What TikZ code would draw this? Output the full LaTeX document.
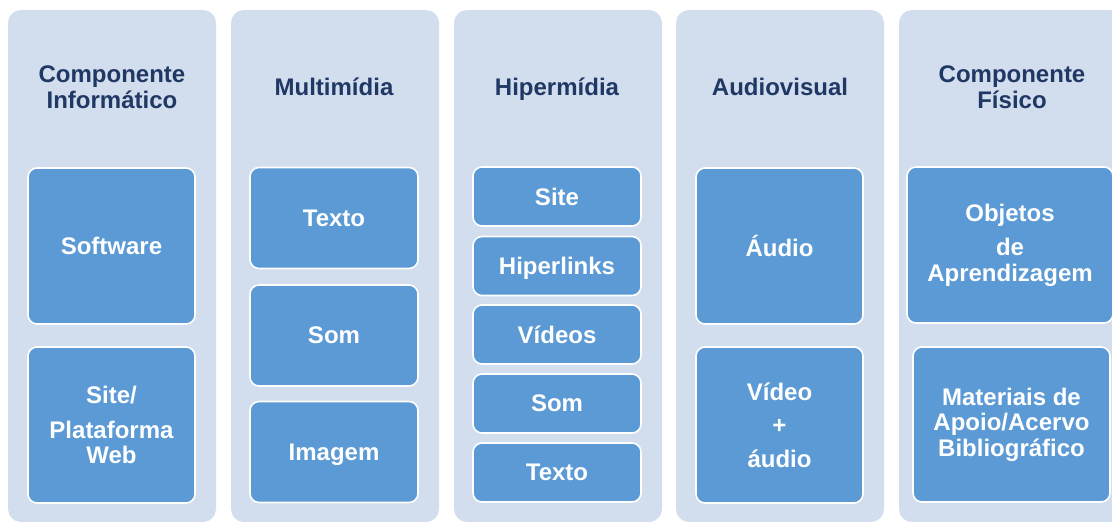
\documentclass[tikz,border=0pt]{standalone}
\usepackage{fontspec}
\setmainfont{Liberation Sans}
\definecolor{panelfill}{HTML}{D2DDEE}
\definecolor{tilefill}{HTML}{5B9AD4}
\definecolor{headcol}{HTML}{1F3864}
\begin{document}
\begin{tikzpicture}[x=1pt,y=-1pt,
  panel/.style={fill=panelfill, draw=none, rounded corners=13pt, inner sep=0pt, minimum width=208pt, minimum height=512pt},
  tile/.style={fill=tilefill, draw=white, line width=1.6pt, rounded corners=9pt, inner sep=0pt,
    text=white, align=center, font=\bfseries\fontsize{24}{25.5}\selectfont},
  head/.style={text=headcol, align=center, font=\bfseries\fontsize{24}{25.5}\selectfont},
  headline/.style={head, text depth=0pt},
  bigtile/.style={tile, minimum width=167pt, minimum height=156pt},
  midtile/.style={tile, minimum width=168pt, minimum height=101pt},
  smalltile/.style={tile, minimum width=168pt, minimum height=59pt, text depth=0pt}]
\path[use as bounding box] (0,0) rectangle (1112,522);
\clip (0,0) rectangle (1112,522);
\fill[white] (0,0) rectangle (1112,522);

% background panels
\node[panel] (p1) at (112,266) {};
\node[panel] (p2) at (335,266) {};
\node[panel] (p3) at (558,266) {};
\node[panel] (p4) at (780,266) {};
\node[panel, minimum width=224pt] (p5) at (1011,266) {};

% headings
\node[head] (h1) at (112,87) {Componente\\Informático};
\node[headline] (h2) at (334,87) {Multimídia};
\node[headline] (h3) at (557,87) {Hipermídia};
\node[headline] (h4) at (780,87) {Audiovisual};
\node[head] (h5) at (1012,87) {Componente\\Físico};

% Componente Informático
\node[bigtile] (sw) at (111.5,246) {Software};
\node[bigtile] (web) at (111.5,425) {Site/\\[9pt]Plataforma\\Web};

% Multimídia
\node[midtile] (mtexto) at (334,218) {Texto};
\node[midtile] (msom) at (334,335.5) {Som};
\node[midtile, text depth=0pt] (mimg) at (334,452) {Imagem};

% Hipermídia
\node[smalltile] (hsite) at (557,196.5) {Site};
\node[smalltile] (hlinks) at (557,266) {Hiperlinks};
\node[smalltile] (hvid) at (557,334.5) {Vídeos};
\node[smalltile] (hsom) at (557,403.5) {Som};
\node[smalltile] (htexto) at (557,472.5) {Texto};

% Audiovisual
\node[bigtile] (audio) at (779.5,246) {Áudio};
\node[bigtile] (video) at (779.5,425) {Vídeo\\[8pt]+\\[8pt]áudio};

% Componente Físico
\node[tile, minimum width=206pt, minimum height=156pt] (obj) at (1010,245) {Objetos\\[9pt]de\\Aprendizagem};
\node[tile, minimum width=197pt, minimum height=155pt] (mat) at (1011.5,424.5) {Materiais de\\Apoio/Acervo\\Bibliográfico};
\end{tikzpicture}
\end{document}
